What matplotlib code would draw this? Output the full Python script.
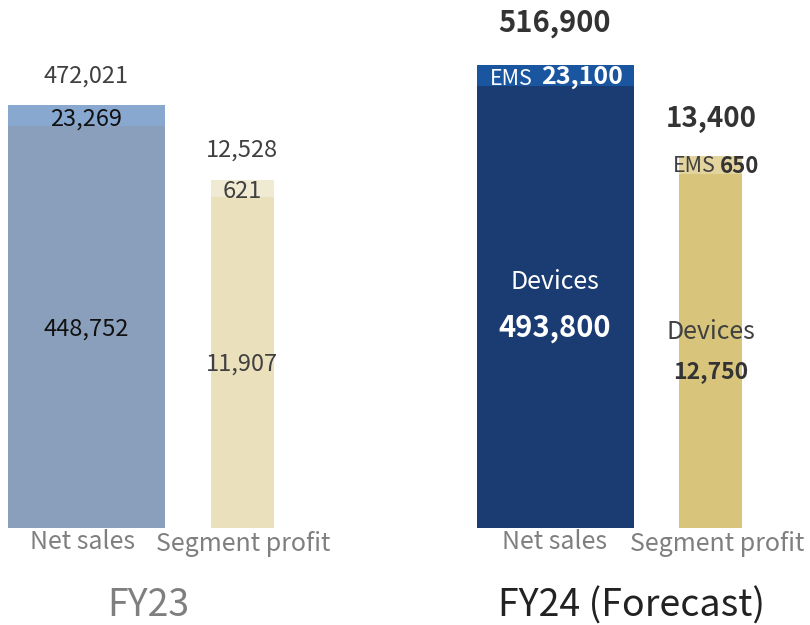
import matplotlib
matplotlib.use("Agg")
import matplotlib.pyplot as plt

plt.rcParams['font.family'] = ['Noto Sans CJK JP', 'DejaVu Sans']

# values (million yen)
fy23 = {"sales_dev": 448752, "sales_ems": 23269, "profit_dev": 11907, "profit_ems": 621}
fy24 = {"sales_dev": 493800, "sales_ems": 23100, "profit_dev": 12750, "profit_ems": 650}

# bar positions in px-like x units
x_sales = [86.5, 555.5]
x_profit = [242.5, 710.5]
w_sales, w_profit = 157, 63

col_sales = [("#8A9FBB", "#89A8D0"), ("#1B3C73", "#1A56A0")]
col_profit = [("#EAE0BC", "#F1EAD2"), ("#D8C47A", "#E3D49E")]

fig = plt.figure(figsize=(8.1, 6.25), dpi=100)
ax = fig.add_axes([0, 0, 1, 1])
ax2 = ax.twinx()
ax2.set_position([0, 0, 1, 1])

u1, u2 = 1116, 36.0  # units per pixel
ax.set_xlim(0, 810)
ax.set_ylim(-97 * u1, 528 * u1)
ax2.set_ylim(-97 * u2, 528 * u2)
for a in (ax, ax2):
    a.axis("off")

for i, d in enumerate([fy23, fy24]):
    ax.bar(x_sales[i], d["sales_dev"], w_sales, color=col_sales[i][0], linewidth=0)
    ax.bar(x_sales[i], d["sales_ems"], w_sales, bottom=d["sales_dev"], color=col_sales[i][1], linewidth=0)
    ax2.bar(x_profit[i], d["profit_dev"], w_profit, color=col_profit[i][0], linewidth=0)
    ax2.bar(x_profit[i], d["profit_ems"], w_profit, bottom=d["profit_dev"], color=col_profit[i][1], linewidth=0)

def t(x, y, s, size=16, color="#404040", weight="normal", ha="center"):
    fig.text(x / 810, 1 - y / 625, s, fontsize=size, color=color, weight=weight,
             ha=ha, va="center")

# FY23
t(86, 76, f"{fy23['sales_dev'] + fy23['sales_ems']:,}", size=17)
t(86, 119, f"{fy23['sales_ems']:,}", size=17, color="#111111")
t(86, 329, f"{fy23['sales_dev']:,}", size=17, color="#111111")
t(242, 150, f"{fy23['profit_dev'] + fy23['profit_ems']:,}", size=17)
t(242, 191, f"{fy23['profit_ems']:,}", size=17)
t(242, 364, f"{fy23['profit_dev']:,}", size=17)

# FY24
t(555, 23, f"{fy24['sales_dev'] + fy24['sales_ems']:,}", size=21, color="#333333", weight="bold")
t(533, 79, "EMS", size=15.5, color="white", ha="right")
t(582, 77, f"{fy24['sales_ems']:,}", size=18, color="white", weight="bold")
t(555, 282, "Devices", size=18, color="white")
t(555, 328, f"{fy24['sales_dev']:,}", size=21, color="#FFFFFF", weight="bold")
t(711, 119, f"{fy24['profit_dev'] + fy24['profit_ems']:,}", size=20, color="#333333", weight="bold")
t(716, 166, "EMS", size=15.5, color="#404040", ha="right")
t(740, 166, f"{fy24['profit_ems']}", size=16, color="#333333", weight="bold")
t(711, 332, "Devices", size=18, color="#404040")
t(711, 372, f"{fy24['profit_dev']:,}", size=16.5, color="#333333", weight="bold")

# bar labels
for x in (82, 555):
    t(x, 542, "Net sales", size=18, color="#7F7F7F")
for x in (243, 717):
    t(x, 544, "Segment profit", size=18, color="#7F7F7F")

t(148, 606, "FY23", size=27, color="#7F7F7F")
t(632, 606, "FY24 (Forecast)", size=27, color="#222222")

fig.savefig("out.png", dpi=100)
